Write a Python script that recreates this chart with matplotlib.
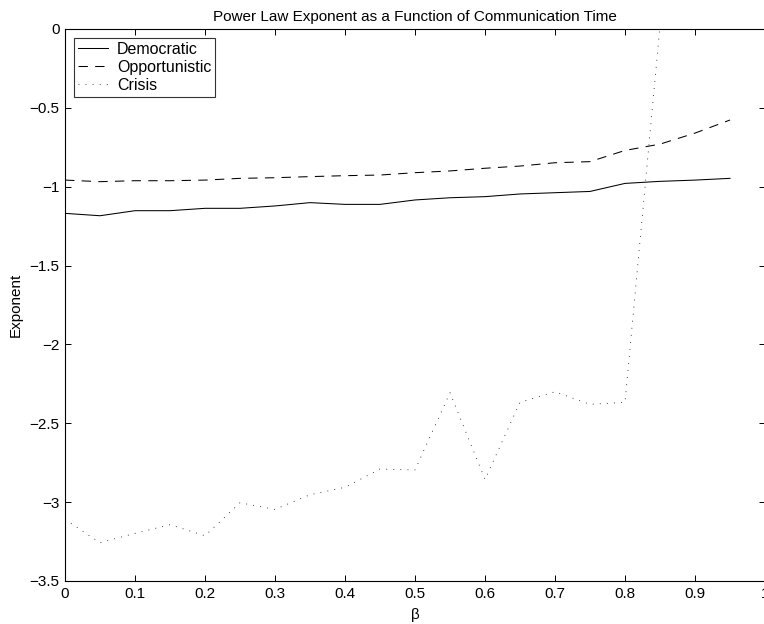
import numpy as np
import matplotlib
matplotlib.use("Agg")
import matplotlib.pyplot as plt

plt.rcParams['font.family'] = ['Liberation Sans', 'DejaVu Sans']

beta = [0.0, 0.05, 0.1, 0.15, 0.2, 0.25, 0.3, 0.35, 0.4, 0.45,
        0.5, 0.55, 0.6, 0.65, 0.7, 0.75, 0.8, 0.85, 0.9, 0.95]

democratic = [-1.169, -1.184, -1.152, -1.152, -1.137, -1.137, -1.122, -1.101, -1.112, -1.112,
              -1.084, -1.070, -1.063, -1.046, -1.038, -1.030, -0.979, -0.966, -0.958, -0.947]

opportunistic = [-0.958, -0.968, -0.962, -0.962, -0.958, -0.947, -0.943, -0.936, -0.930, -0.926,
                 -0.911, -0.900, -0.883, -0.869, -0.848, -0.841, -0.770, -0.730, -0.660, -0.577]

# crisis curve leaves the top of the axes after beta = 0.85
crisis_beta = beta[:18]
crisis = [-3.11, -3.257, -3.198, -3.143, -3.213, -3.004, -3.046, -2.953, -2.906, -2.790,
          -2.796, -2.306, -2.856, -2.367, -2.300, -2.380, -2.367, 0.02]

fig = plt.figure(figsize=(7.64, 6.24), dpi=100)
ax = fig.add_axes([65 / 764, 1 - 581 / 624, 700 / 764, 552 / 624])

ax.plot(beta, democratic, color='black', lw=0.75, ls='-', label='Democratic')
ax.plot(beta, opportunistic, color='black', lw=0.75, ls=(0, (9, 7)), label='Opportunistic')
ax.plot(crisis_beta, crisis, color='black', lw=0.6, ls=(0, (1, 7.5)), label='Crisis')

ax.set_xlim(0, 1)
ax.set_ylim(-3.5, 0)
ax.set_xticks(np.arange(0, 1.01, 0.1))
ax.set_xticklabels(['0', '0.1', '0.2', '0.3', '0.4', '0.5', '0.6', '0.7', '0.8', '0.9', '1'])
ax.set_yticks(np.arange(-3.5, 0.01, 0.5))
ax.set_yticklabels(['\u22123.5', '\u22123', '\u22122.5', '\u22122', '\u22121.5', '\u22121', '\u22120.5', '0'])

ax.tick_params(direction='in', top=True, right=True, length=4.5, width=0.7,
               labelsize=11, pad=4)
for s in ax.spines.values():
    s.set_linewidth(0.8)

ax.set_title('Power Law Exponent as a Function of Communication Time', fontsize=11, pad=6)
ax.set_xlabel('\u03b2', fontsize=11, labelpad=5)
ax.set_ylabel('Exponent', fontsize=11, labelpad=5)

leg = ax.legend(loc='upper left', fontsize=11.5, frameon=True, fancybox=False,
                edgecolor='black', handlelength=1.9, handletextpad=0.55,
                borderaxespad=0.55, borderpad=0.25, labelspacing=0.18)
leg.get_frame().set_linewidth(0.8)

fig.savefig('out.png', dpi=100)
